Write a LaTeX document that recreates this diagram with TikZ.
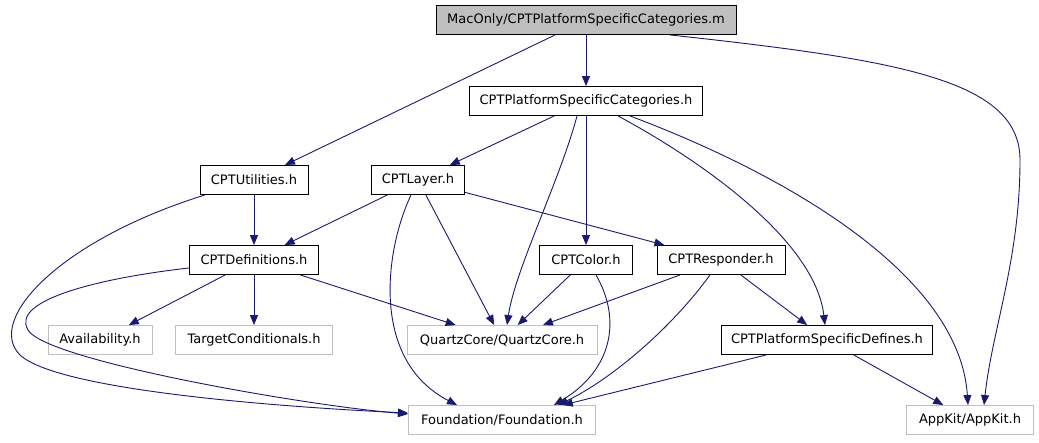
\documentclass[tikz,border=0pt]{standalone}
\usepackage{fontspec}
\setmainfont{DejaVu Sans}
\usetikzlibrary{arrows.meta}
\definecolor{edgeblue}{HTML}{191970}
\definecolor{boxgray}{HTML}{BFBFBF}
\tikzset{
    file/.style={draw=black, line width=0.9pt, minimum height=29pt, inner sep=0pt, font=\fontsize{13}{15}\selectfont},
    extfile/.style={file, draw=boxgray},
    dep/.style={-{Triangle[length=10pt,width=8pt]}, draw=edgeblue, line width=0.9pt}
}
\begin{document}
\begin{tikzpicture}[x=1pt,y=-1pt]
        \useasboundingbox (0,0) rectangle (1039,443);
        \node[file, fill=boxgray, minimum width=300pt] (main) at (586,20) {MacOnly/CPTPlatformSpecificCategories.m};
        \node[file, minimum width=233pt] (cats) at (586,101) {CPTPlatformSpecificCategories.h};
        \node[file, minimum width=108pt] (util) at (254,180) {CPTUtilities.h};
        \node[file, minimum width=93pt] (layer) at (418,180) {CPTLayer.h};
        \node[file, minimum width=129pt] (defs) at (254,260) {CPTDefinitions.h};
        \node[file, minimum width=93pt] (color) at (586,260) {CPTColor.h};
        \node[file, minimum width=128pt] (resp) at (721,260) {CPTResponder.h};
        \node[extfile, minimum width=104pt] (avail) at (100,340) {Availability.h};
        \node[extfile, minimum width=157pt] (target) at (254,340) {TargetConditionals.h};
        \node[extfile, minimum width=190pt] (quartz) at (502,340) {QuartzCore/QuartzCore.h};
        \node[file, minimum width=211pt] (defines) at (827,340) {CPTPlatformSpecificDefines.h};
        \node[extfile, minimum width=187pt] (found) at (502,420) {Foundation/Foundation.h};
        \node[extfile, minimum width=127pt] (appkit) at (970,420) {AppKit/AppKit.h};

        \draw[dep] (main) -- (cats);
        \draw[dep] (main) -- (util);
        \draw[dep] ([xshift=84pt]main.south) .. controls (900,60) and (1020,80) .. (1020,160) .. controls (1020,260) and (992,330) .. ([xshift=14pt]appkit.north);

        \draw[dep] (cats) -- (layer);
        \draw[dep] ([xshift=-9pt]cats.south) .. controls (560,180) and (515,270) .. ([xshift=5pt]quartz.north);
        \draw[dep] (cats) -- (color);
        \draw[dep] ([xshift=32pt]cats.south) .. controls (700,160) and (815,240) .. ([xshift=-2pt]defines.north);
        \draw[dep] ([xshift=44pt]cats.south) .. controls (800,180) and (960,280) .. ([xshift=-2pt]appkit.north);

        \draw[dep] (util) -- (defs);
        \draw[dep] ([xshift=-49pt]util.south) .. controls (60,240) and (-15,320) .. (20,355) .. controls (60,392) and (300,408) .. ([yshift=7pt]found.west);

        \draw[dep] (layer) -- (defs);
        \draw[dep] (layer) -- (quartz);
        \draw[dep] ([xshift=-7pt]layer.south) .. controls (385,250) and (370,360) .. ([xshift=-45pt]found.north);
        \draw[dep] (layer) -- (resp);

        \draw[dep] (defs) -- (avail);
        \draw[dep] (defs) -- (target);
        \draw[dep] (defs) -- (quartz);
        \draw[dep] ([yshift=-8pt]defs.west) .. controls (100,278) and (10,300) .. (28,330) .. controls (45,360) and (300,405) .. ([yshift=6pt]found.west);

        \draw[dep] (color) -- (quartz);
        \draw[dep] ([xshift=10pt]color.south) .. controls (622,320) and (612,370) .. ([xshift=52pt]found.north);

        \draw[dep] (resp) -- (quartz);
        \draw[dep] ([xshift=-11pt]resp.south) .. controls (670,330) and (610,380) .. ([xshift=56pt]found.north);
        \draw[dep] (resp) -- (defines);

        \draw[dep] (defines) -- (found);
        \draw[dep] (defines) -- (appkit);
    \end{tikzpicture}
\end{document}
